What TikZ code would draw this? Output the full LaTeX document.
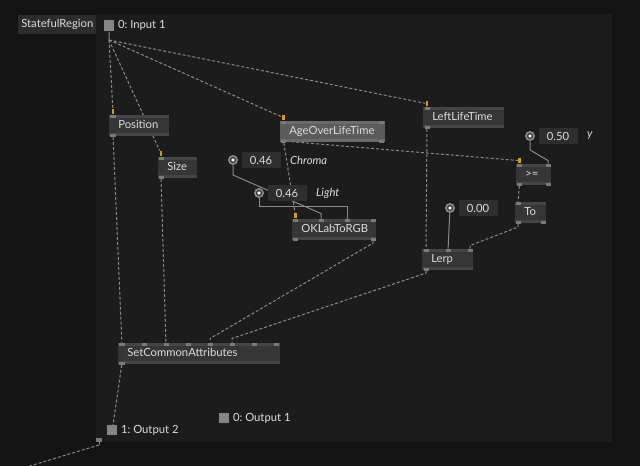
\documentclass[tikz,border=0pt]{standalone}
\usepackage{fontspec}
\setmainfont{Lato}
\usetikzlibrary{positioning,calc,backgrounds}
\definecolor{bgcol}{HTML}{141414}
\definecolor{regcol}{HTML}{1C1C1C}
\definecolor{tagcol}{HTML}{2C2C2C}
\definecolor{opcol}{HTML}{363636}
\definecolor{stripcol}{HTML}{454545}
\definecolor{selcol}{HTML}{5C5C5C}
\definecolor{selstrip}{HTML}{6A6A6A}
\definecolor{portcol}{HTML}{7A7A7A}
\definecolor{pincol}{HTML}{DB9A0C}
\definecolor{wirecol}{HTML}{8A8A8A}
\definecolor{valcol}{HTML}{2E2E2E}
\definecolor{txtcol}{HTML}{DCDCDC}
\definecolor{iocol}{HTML}{858585}
\newcommand\opstrips[1]{%
  \fill[#1] (path picture bounding box.north west) rectangle ([yshift=-0.075cm]path picture bounding box.north east);
  \fill[#1] (path picture bounding box.south west) rectangle ([yshift=0.075cm]path picture bounding box.south east);}

\begin{document}
\begin{tikzpicture}[x=0.025cm,y=-0.025cm,
  txt/.style={text=txtcol,font=\fontsize{8}{9}\selectfont},
  op/.style={txt,rectangle,fill=opcol,anchor=north west,minimum height=0.525cm,inner xsep=0.225cm,inner ysep=0pt,
    text width={(#1-18)*0.025cm},text height=6pt,text depth=1.5pt,align=left,path picture={\opstrips{stripcol}}},
  sel/.style={fill=selcol,path picture={\opstrips{selstrip}}},
  port/.style={rectangle,fill=portcol,inner sep=0pt,minimum width=0.125cm,minimum height=0.075cm},
  pin/.style={rectangle,fill=pincol,inner sep=0pt,minimum width=0.07cm,minimum height=0.14cm,anchor=south},
  knob/.style={circle,fill=wirecol,inner sep=0pt,minimum size=0.25cm,
    path picture={\fill[valcol] (path picture bounding box.center) circle (0.075cm);
      \fill[white] (path picture bounding box.center) circle (0.045cm);}},
  val/.style={txt,rectangle,fill=valcol,minimum width=0.975cm,minimum height=0.4cm,inner sep=0pt,right=0.075cm of #1},
  lab/.style={txt,font=\fontsize{8}{9}\selectfont\itshape,inner sep=0pt,right=0.225cm of #1},
  iosq/.style={rectangle,fill=iocol,inner sep=0pt,minimum size=0.25cm,anchor=north west},
  iotext/.style={txt,inner sep=0pt,right=0.08cm of #1},
  tag/.style={txt,rectangle,fill=tagcol,anchor=north west,minimum width=1.95cm,minimum height=0.475cm,inner sep=0pt},
  wire/.style={wirecol,line width=0.025cm,dash pattern=on 0.075cm off 0.05cm},
  link/.style={wirecol,line width=0.025cm}]
  \useasboundingbox (0,0) rectangle (640,466);
  \clip (0,0) rectangle (640,466);
  \begin{pgfonlayer}{background}
    \fill[bgcol] (0,0) rectangle (640,466);
    \fill[regcol] (96,14) rectangle (612,442);
  \end{pgfonlayer}
  \node[tag] (region) at (18,15) {StatefulRegion};
  % region input / outputs
  \node[iosq,minimum height=0.275cm] (in1) at (104,20) {};
  \node[iotext=in1] (in1-t) {0:~Input 1};
  \coordinate (in1-o) at (109,40);
  \node[iosq] (out2) at (107,425) {};
  \node[iotext=out2] (out2-t) {1:~Output 2};
  \node[iosq] (out1) at (219,413) {};
  \node[iotext=out1] (out1-t) {0:~Output 1};
  \node[port,minimum height=0.1cm] (reg-o) at (99,440) {};
  \coordinate (reg-s) at (99,445);
  \coordinate (ext) at (0,475);
  % operators
  \node[op=60] (pos) at (109,115) {Position};
  \node[op=39] (size) at (158,157) {Size};
  \node[op=105,sel] (age) at (280,121) {AgeOverLifeTime};
  \node[op=81] (left) at (423,107) {LeftLifeTime};
  \node[op=35] (ge) at (516,164) {>=};
  \node[op=31] (to) at (515,202) {To};
  \node[op=84] (ok) at (292,219) {OKLabToRGB};
  \node[op=51] (lerp) at (422,249) {Lerp};
  \node[op=162] (sca) at (118,343) {SetCommonAttributes};
  % ports
  \node[port] (pos-i) at ($(pos.north west)+(4,1.5)$) {};
  \node[pin] (pos-p) at (pos-i.north) {};
  \node[port] (pos-o) at ($(pos.south west)+(4,-1.5)$) {};
  \node[port] (size-i) at ($(size.north west)+(3,1.5)$) {};
  \node[pin] (size-p) at (size-i.north) {};
  \node[port] (size-o) at ($(size.south west)+(3,-1.5)$) {};
  \node[port] (age-i) at ($(age.north west)+(3.5,1.5)$) {};
  \node[pin] (age-p) at (age-i.north) {};
  \node[port] (age-i2) at ($(age.north east)+(-4,1.5)$) {};
  \node[port] (age-o) at ($(age.south west)+(3.5,-1.5)$) {};
  \node[port] (age-o2) at ($(age.south east)+(-4,-1.5)$) {};
  \node[port] (left-i) at ($(left.north west)+(4,1.5)$) {};
  \node[pin] (left-p) at (left-i.north) {};
  \node[port] (left-o) at ($(left.south west)+(4,-1.5)$) {};
  \node[port] (ge-1) at ($(ge.north west)+(3.5,1.5)$) {};
  \node[pin] (ge-p) at (ge-1.north) {};
  \node[port] (ge-2) at ($(ge.north east)+(-3.5,1.5)$) {};
  \node[port] (ge-o) at ($(ge.south west)+(3.5,-1.5)$) {};
  \node[port] (ge-o2) at ($(ge.south east)+(-3.5,-1.5)$) {};
  \node[port] (to-i) at ($(to.north west)+(3,1.5)$) {};
  \node[port] (to-o) at ($(to.south west)+(3,-1.5)$) {};
  \node[port] (to-o2) at ($(to.south east)+(-3,-1.5)$) {};
  \node[port] (ok-1) at ($(ok.north west)+(3.5,1.5)$) {};
  \node[pin] (ok-p) at (ok-1.north) {};
  \node[port] (ok-2) at ($(ok.north west)+(29,1.5)$) {};
  \node[port] (ok-3) at ($(ok.north west)+(55,1.5)$) {};
  \node[port] (ok-4) at ($(ok.north east)+(-3.5,1.5)$) {};
  \node[port] (ok-o) at ($(ok.south west)+(3.5,-1.5)$) {};
  \node[port] (ok-o2) at ($(ok.south east)+(-3.5,-1.5)$) {};
  \node[port] (lerp-1) at ($(lerp.north west)+(4,1.5)$) {};
  \node[port] (lerp-2) at ($(lerp.north west)+(26,1.5)$) {};
  \node[port] (lerp-3) at ($(lerp.north west)+(48,1.5)$) {};
  \node[port] (lerp-o) at ($(lerp.south west)+(4,-1.5)$) {};
  \foreach \x [count=\i] in {4,26,...,158}
    \node[port] (sca-\i) at ($(sca.north west)+(\x,1.5)$) {};
  \node[port] (sca-o) at ($(sca.south west)+(4,-1.5)$) {};
  % values
  \node[knob] (kchroma) at (233,160) {};
  \node[val=kchroma] (vchroma) {0.46};
  \node[lab=vchroma] (lchroma) {Chroma};
  \node[knob] (klight) at (259,193) {};
  \node[val=klight] (vlight) {0.46};
  \node[lab=vlight] (llight) {Light};
  \node[knob] (kgamma) at (530,136) {};
  \node[val=kgamma] (vgamma) {0.50};
  \node[lab=vgamma] (lgamma) {y};
  \node[knob] (kzero) at (450,208) {};
  \node[val=kzero] (vzero) {0.00};
  % connections, kept under the nodes
  \begin{pgfonlayer}{background}
    \draw[link] (in1) -- (in1-o);
    \draw[wire] (in1-o) -- (pos-p);
    \draw[wire] (in1-o) -- (size-p);
    \draw[wire] (in1-o) -- (age-p);
    \draw[wire] (in1-o) -- (left-p);
    \draw[wire] (pos-o) -- (sca-1);
    \draw[wire] (size-o) -- (sca-3);
    \draw[wire] (age-o) -- (ge-p);
    \draw[wire] (age-o) -- (ok-p);
    \draw[wire] (ge-o) -- (to-i);
    \draw[wire] (left-o) -- (lerp-1);
    \draw[wire] (to-o) -- ++(0,5) -- ($(lerp-3)+(0,-5)$) -- (lerp-3);
    \draw[wire] (ok-o2) -- ++(0,4) -- ($(sca-5)+(0,-6)$) -- (sca-5);
    \draw[wire] (lerp-o) -- ++(0,4) -- ($(sca-6)+(0,-6)$) -- (sca-6);
    \draw[wire] (sca-o) -- (out2);
    \draw[link] (reg-o) -- (reg-s);
    \draw[wire] (reg-s) -- (ext);
    \draw[link] (kchroma) -- ++(0,15) -- ($(ok-2)+(0,-7)$) -- (ok-2);
    \draw[link] (klight) -- ++(0,14) -| (ok-3);
    \draw[link] (kgamma) -- ++(0,14) -- ($(ge-2)+(0,-5)$) -- (ge-2);
    \draw[link] (kzero) -- (lerp-2);
  \end{pgfonlayer}
\end{tikzpicture}
\end{document}
